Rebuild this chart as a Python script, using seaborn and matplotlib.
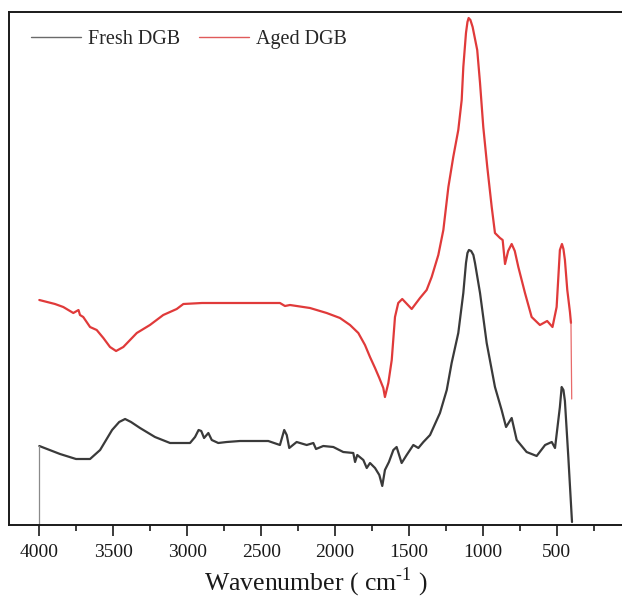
import numpy as np
import pandas as pd
import seaborn as sns
import matplotlib.pyplot as plt
from matplotlib.lines import Line2D
from matplotlib.ticker import MultipleLocator

# FTIR spectra (wavenumber in cm-1, absorbance in arbitrary units)
fresh_wn = [4000, 4000, 3860, 3752, 3657, 3589, 3508, 3460, 3420, 3380, 3319, 3218, 3116, 2981, 2947,
            2923, 2905, 2886, 2857, 2834, 2790, 2733, 2643, 2452, 2373, 2344, 2327, 2310, 2260, 2192,
            2147, 2129, 2080, 2012, 1945, 1877, 1865, 1850, 1809, 1786, 1764, 1730, 1701, 1681,
            1663, 1636, 1606, 1584, 1550, 1516, 1471, 1437, 1403, 1358, 1291, 1245, 1212, 1167,
            1133, 1115, 1105, 1095, 1080, 1065, 1054, 1020, 975, 919, 874, 844, 806, 772, 705, 637,
            580, 535, 513, 480, 468, 456, 446, 423, 400, 398]
fresh_ab = [0, 79, 71, 66, 66, 75, 95, 103, 106, 103, 97, 88, 82, 82, 88,
            95, 94, 87, 92, 85, 82, 83, 84, 84, 80, 95, 90, 77, 83, 80,
            82, 76, 79, 78, 73, 72, 63, 70, 65, 57, 62, 57, 50, 39,
            55, 63, 75, 78, 62, 70, 80, 77, 83, 90, 112, 135, 162, 192,
            232, 262, 272, 275, 274, 270, 262, 232, 182, 138, 115, 98, 107, 85, 73, 69,
            80, 83, 77, 118, 138, 135, 124, 68, 8, 3]

aged_wn = [4000, 3894, 3838, 3770, 3735, 3725, 3703, 3657, 3612, 3567, 3522, 3481, 3432, 3341,
           3252, 3162, 3071, 3026, 2900, 2778, 2508, 2373, 2339, 2305, 2170, 2057, 1967, 1899,
           1843, 1798, 1764, 1730, 1701, 1674, 1663, 1640, 1617, 1595, 1573, 1546, 1482, 1426,
           1381, 1347, 1302, 1268, 1234, 1201, 1167, 1144, 1133, 1115, 1105, 1097, 1085, 1070,
           1039, 1020, 998, 971, 941, 919, 885, 867, 851, 830, 806, 785, 761, 716, 671, 615, 566,
           530, 502, 480, 466, 456, 446, 430, 412, 405, 400]
aged_ab = [225, 221, 218, 212, 215, 210, 208, 198, 195, 187, 178, 174, 178, 192,
           200, 210, 216, 221, 222, 222, 222, 222, 219, 220, 217, 212, 207, 200,
           192, 180, 168, 157, 147, 137, 128, 142, 165, 208, 222, 226, 216, 227,
           235, 248, 270, 295, 338, 368, 395, 425, 458, 492, 503, 507, 505, 498,
           475, 442, 398, 358, 318, 292, 287, 285, 261, 274, 281, 274, 258, 232, 208, 200, 204,
           198, 218, 275, 281, 276, 265, 235, 213, 202, 126]

series = ['Fresh DGB', 'Aged DGB']
colors = {'Fresh DGB': '#3a3a3a', 'Aged DGB': '#e03a3a'}

fresh = pd.DataFrame({'wn': fresh_wn, 'ab': fresh_ab, 'sample': 'Fresh DGB'})
aged = pd.DataFrame({'wn': aged_wn, 'ab': aged_ab, 'sample': 'Aged DGB'})
# the end drops are drawn thin, the rest of each trace thicker
main = pd.concat([fresh.iloc[1:], aged.iloc[:-1]], ignore_index=True)

sns.set_style('white')
plt.rcParams['font.family'] = ['Liberation Serif', 'DejaVu Serif']
plt.rcParams['mathtext.fontset'] = 'custom'
plt.rcParams['mathtext.rm'] = 'Liberation Serif'
plt.rcParams['axes.unicode_minus'] = False

fig = plt.figure(figsize=(6.22, 6.04), dpi=100)
ax = fig.add_axes([9 / 622, 79 / 604, 613 / 622, 513 / 604])

sns.lineplot(data=main, x='wn', y='ab', hue='sample', palette=colors, estimator=None,
             sort=False, units='sample', linewidth=1.6, legend=False, ax=ax)
ax.plot(fresh['wn'][:2], fresh['ab'][:2], color='#8a8a8a', linewidth=0.9)
ax.plot(aged['wn'][-2:], aged['ab'][-2:], color='#e86a6a', linewidth=0.9)

ax.set_xlim(4205, 60)
ax.set_ylim(0, 513)
ax.xaxis.set_major_locator(MultipleLocator(500))
ax.xaxis.set_minor_locator(MultipleLocator(250))
ax.set_yticks([])
ax.tick_params(axis='x', which='major', direction='out', length=8, width=1.2,
               colors='#1a1a1a', labelsize=14, pad=6, bottom=True)
ax.tick_params(axis='x', which='minor', direction='out', length=4, width=1.2,
               colors='#1a1a1a', bottom=True)
ax.set_ylabel('')
ax.set_xlabel(r'Wavenumber ( cm$^{\text{-1}}$ )', fontsize=18.5, color='#1a1a1a', labelpad=3)

for side in ['left', 'bottom', 'top']:
    ax.spines[side].set_color('#1a1a1a')
    ax.spines[side].set_linewidth(1.4)
ax.spines['right'].set_visible(False)

handles = [Line2D([], [], color=c, linewidth=1.0) for c in ['#6a6a6a', '#e05a5a']]
ax.legend(handles, series, loc='upper left', bbox_to_anchor=(0.036, 0.965), ncol=2,
          frameon=False, fontsize=14.5, handlelength=2.5, handletextpad=0.35,
          columnspacing=0.9, borderpad=0, borderaxespad=0)

fig.savefig('out.png', dpi=100)
